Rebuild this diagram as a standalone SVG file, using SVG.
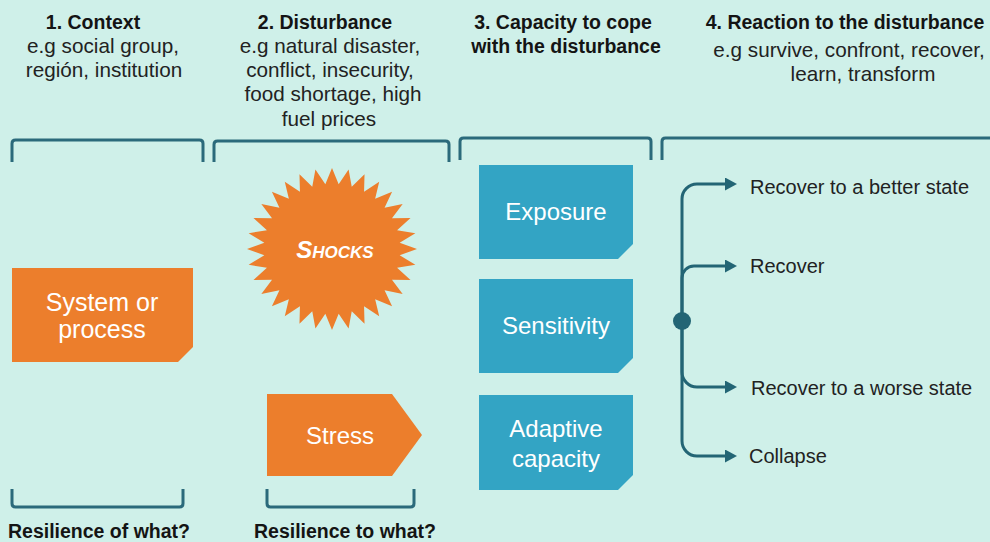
<svg xmlns="http://www.w3.org/2000/svg" width="990" height="542" viewBox="0 0 990 542">
<style>
.t{font-family:"Liberation Sans",Arial,sans-serif;font-weight:bold;font-size:19.5px;fill:#141414;text-anchor:middle}
.s{font-family:"Liberation Sans",Arial,sans-serif;font-size:20.7px;fill:#222;text-anchor:middle}
.r{font-family:"Liberation Sans",Arial,sans-serif;font-size:20px;fill:#222}
.w{font-family:"Liberation Sans",Arial,sans-serif;font-size:24px;fill:#fff;text-anchor:middle}
.w2{font-size:25px}
.br{fill:none;stroke:#2B6A7B;stroke-width:3}
.or{fill:#EC7E2C}
.bl{fill:#33A4C4}
.cn{fill:none;stroke:#236575;stroke-width:3}
</style>
<defs>
<marker id="ah" viewBox="0 0 12 13" refX="0" refY="6.5" markerWidth="12" markerHeight="13" markerUnits="userSpaceOnUse" orient="auto">
<path d="M0,0 L12,6.5 L0,13 z" fill="#236575"/>
</marker>
</defs>
<rect width="990" height="542" fill="#CFF0E9"/>

<g id="headers">
<text class="t" x="93" y="29">1. Context</text>
<text class="s" x="103" y="53">e.g social group,</text>
<text class="s" x="104" y="77">región, institution</text>
<text class="t" x="325" y="29">2. Disturbance</text>
<text class="s" x="330" y="53">e.g natural disaster,</text>
<text class="s" x="330" y="77">conflict, insecurity,</text>
<text class="s" x="333" y="101">food shortage, high</text>
<text class="s" x="329" y="126">fuel prices</text>
<text class="t" x="563" y="29">3. Capacity to cope</text>
<text class="t" x="566" y="53">with the disturbance</text>
<text class="t" x="845" y="29">4. Reaction to the disturbance</text>
<text class="s" x="849" y="57">e.g survive, confront, recover,</text>
<text class="s" x="863" y="81">learn, transform</text>
</g>

<g id="brackets">
<path class="br" d="M12,162 V143.5 Q12,140 15.5,140 H199.5 Q203,140 203,143.5 V162"/>
<path class="br" d="M214,162 V144.5 Q214,141 217.5,141 H445.5 Q449,141 449,144.5 V162"/>
<path class="br" d="M460,160 V141.5 Q460,138 463.5,138 H647.5 Q651,138 651,141.5 V160"/>
<path class="br" d="M662,160 V141.5 Q662,138 665.5,138 H992"/>
<path class="br" d="M12,489 V503.5 Q12,507 15.5,507 H179.5 Q183,507 183,503.5 V489"/>
<path class="br" d="M267,489 V503.5 Q267,507 270.5,507 H410.5 Q414,507 414,503.5 V489"/>
</g>

<g id="system">
<polygon class="or" points="12,268 193,268 193,347 178,362 12,362"/>
<text class="w w2" x="102" y="311">System or</text>
<text class="w w2" x="102" y="338">process</text>
</g>

<g id="shocks">
<polygon class="or" transform="translate(332,249)" points="0,-81 6.67,-64.69 16.58,-79.44 19.74,-62.2 32.53,-74.83 32.06,-57.32 47.22,-67.35 43.14,-50.25 60.1,-57.28 52.56,-41.24 70.67,-45 59.97,-30.64 78.53,-31 65.07,-18.87 83.37,-15.8 67.67,-6.37 85,0 67.67,6.37 83.37,15.8 65.07,18.87 78.53,31 59.97,30.64 70.67,45 52.56,41.24 60.1,57.28 43.14,50.25 47.22,67.35 32.06,57.32 32.53,74.83 19.74,62.2 16.58,79.44 6.67,64.69 0,81 -6.67,64.69 -16.58,79.44 -19.74,62.2 -32.53,74.83 -32.06,57.32 -47.22,67.35 -43.14,50.25 -60.1,57.28 -52.56,41.24 -70.67,45 -59.97,30.64 -78.53,31 -65.07,18.87 -83.37,15.8 -67.67,6.37 -85,0 -67.67,-6.37 -83.37,-15.8 -65.07,-18.87 -78.53,-31 -59.97,-30.64 -70.67,-45 -52.56,-41.24 -60.1,-57.28 -43.14,-50.25 -47.22,-67.35 -32.06,-57.32 -32.53,-74.83 -19.74,-62.2 -16.58,-79.44 -6.67,-64.69"/>
<text x="335" y="258" font-family="Liberation Sans, Arial, sans-serif" font-size="24" font-weight="bold" font-style="italic" font-variant="small-caps" fill="#fff" text-anchor="middle">Shocks</text>
</g>

<g id="stress">
<polygon class="or" points="267,394 392,394 422,435 392,476 267,476"/>
<text class="w" x="340" y="444">Stress</text>
</g>

<g id="exposure">
<polygon class="bl" points="479,165 633,165 633,244 618,259 479,259"/>
<text class="w" x="556" y="220">Exposure</text>
</g>

<g id="sensitivity">
<polygon class="bl" points="479,279 633,279 633,358 618,373 479,373"/>
<text class="w" x="556" y="334">Sensitivity</text>
</g>

<g id="adaptive">
<polygon class="bl" points="479,395 633,395 633,475 618,490 479,490"/>
<text class="w" x="556" y="437">Adaptive</text>
<text class="w" x="556" y="467">capacity</text>
</g>

<g id="connectors">
<path class="cn" d="M682,321 V199 A15,15 0 0 1 697,184 H725" marker-end="url(#ah)"/>
<path class="cn" d="M682,321 V278 A12,12 0 0 1 694,266 H725" marker-end="url(#ah)"/>
<path class="cn" d="M682,321 V372 A15,15 0 0 0 697,387 H725" marker-end="url(#ah)"/>
<path class="cn" d="M682,321 V441 A15,15 0 0 0 697,456 H725" marker-end="url(#ah)"/>
<circle cx="682" cy="321" r="9" fill="#236575"/>
</g>

<g id="outcomes">
<text class="r" x="750" y="194">Recover to a better state</text>
<text class="r" x="750" y="273">Recover</text>
<text class="r" x="751" y="395">Recover to a worse state</text>
<text class="r" x="749" y="463">Collapse</text>
</g>

<g id="labels">
<text class="t" x="99" y="538">Resilience of what?</text>
<text class="t" x="345" y="538">Resilience to what?</text>
</g>
</svg>
